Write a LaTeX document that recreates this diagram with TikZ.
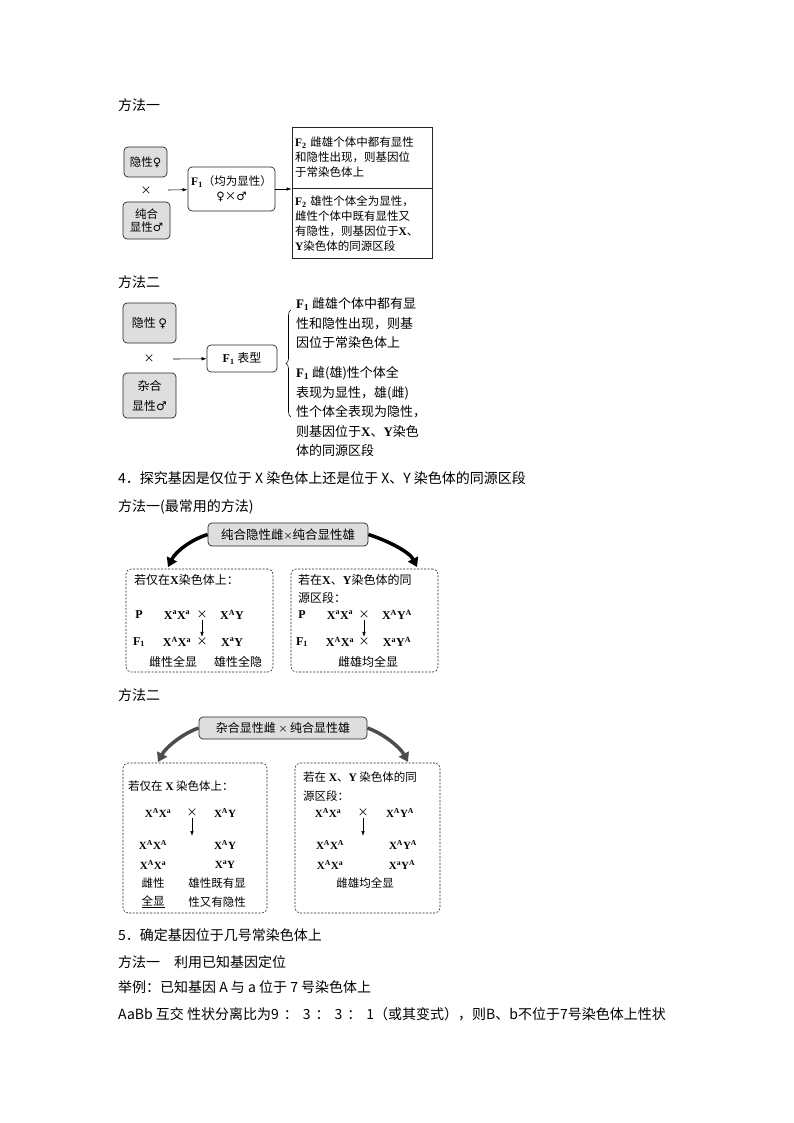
\documentclass[tikz,border=0pt]{standalone}
\usepackage{fontspec}
\setmainfont{Noto Sans CJK SC}
\newfontfamily\lat{Liberation Serif}
\newfontfamily\sym{DejaVu Sans}
\usetikzlibrary{arrows,arrows.meta,calc,decorations.pathreplacing,positioning}
\newcommand{\gt}[1]{{\lat\bfseries #1}}
\newcommand{\su}[1]{\textsuperscript{#1}}
\newcommand{\fe}{{\sym ♀}}
\newcommand{\ma}{{\sym ♂}}
\newcommand{\gap}{\hspace{5pt}}
\tikzset{%
	body/.style      = {anchor=west, inner sep=0pt, font=\fontsize{14}{16}\selectfont},
	graybox/.style   = {draw=black!85, fill=black!13, rounded corners=4pt, line width=.7pt, align=center, inner sep=1pt, font=\fontsize{11.5}{13.5}\selectfont},
	whitebox/.style  = {draw=black!85, rounded corners=4pt, line width=.7pt, align=center, inner sep=1pt, font=\fontsize{11.5}{15}\selectfont},
	resultbox/.style = {draw=black!85, line width=.7pt, align=left, inner sep=3pt, text width=134pt, font=\fontsize{11.5}{15}\selectfont},
	dashbox/.style   = {draw=black!85, dash pattern=on 2pt off 1.5pt, rounded corners=5pt, line width=.6pt},
	boxtext/.style   = {anchor=west, inner sep=0pt, font=\fontsize{12}{14}\selectfont},
	geno/.style      = {inner sep=1pt, font=\lat\bfseries\fontsize{12}{14}\selectfont},
	cross/.style     = {inner sep=1pt, font=\fontsize{11}{13}\selectfont},
	arrow/.style     = {line width=.6pt, -{Latex[length=5pt,width=3.5pt]}},
	bigarrow/.style  = {line width=3.5pt, -{Triangle[length=9pt,width=11pt]}},
}

\begin{document}
\begin{tikzpicture}[x=1pt,y=-1pt]
\useasboundingbox (0,0) rectangle (794,1123);

% method one
\node[body] (m1) at (118,105) {方法一};
\node[graybox, minimum width=43pt, minimum height=30pt] (rec1) at (145.5,162) {隐性\fe};
\node[cross] (x1) at (146,191) {×};
\node[graybox, minimum width=47pt, minimum height=37pt] (dom1) at (146.5,220.5) {纯合\\显性\ma};
\node[whitebox, minimum width=87pt, minimum height=44pt] (f1a) at (231.5,189) {\gt{F\textsubscript{1}}（均为显性）\\\fe×\ma};
\node[resultbox, minimum height=61pt] (auto1) at (362,157.5) {\gt{F\textsubscript{2}} 雌雄个体中都有显性\\和隐性出现，则基因位\\于常染色体上};
\node[resultbox, minimum height=70pt, below=0pt of auto1] (xy1) {\gt{F\textsubscript{2}} 雄性个体全为显性，\\雌性个体中既有显性又\\有隐性，则基因位于\gt{X}、\\\gt{Y}染色体的同源区段};
\coordinate (s1) at (168,190);
\draw[arrow] (s1) -- (f1a);
\draw[arrow] (f1a.east) -- (f1a.east -| xy1.north west);

% method two
\node[body] (m2) at (118,282) {方法二};
\node[graybox, minimum width=53pt, minimum height=40pt, font=\fontsize{12}{20}\selectfont] (rec2) at (149.5,323) {隐性 \fe};
\node[cross] (x2) at (149,359) {×};
\node[graybox, minimum width=53pt, minimum height=45pt, font=\fontsize{12}{20}\selectfont] (het2) at (149.5,395.5) {杂合\\显性\ma};
\node[whitebox, minimum width=70pt, minimum height=27pt, font=\fontsize{12}{14}\selectfont] (f1b) at (242,358.5) {\gt{F\textsubscript{1}} 表型};
\coordinate (s2) at (173,359);
\draw[arrow] (s2) -- (f1b);
\coordinate (brb) at (291,417);
\coordinate (brt) at (291,310);
\draw[line width=.6pt, decorate, decoration={brace, amplitude=5pt}] (brb) -- (brt);
\node[body, align=left, font=\fontsize{13}{19.5}\selectfont] (auto2) at (296,323.5) {\gt{F\textsubscript{1}} 雌雄个体中都有显\\性和隐性出现，则基\\因位于常染色体上};
\node[body, align=left, font=\fontsize{13}{19.5}\selectfont] (xy2) at (296,412) {\gt{F\textsubscript{1}} 雌(雄)性个体全\\表现为显性，雄(雌)\\性个体全表现为隐性，\\则基因位于\gt{X}、\gt{Y}染色\\体的同源区段};

% section 4
\node[body] (h4) at (118,478) {4．探究基因是仅位于 X 染色体上还是位于 X、Y 染色体的同源区段};
\node[body] (m3) at (118,507) {方法一(最常用的方法)};
\node[graybox, minimum width=160pt, minimum height=23pt, font=\fontsize{12.5}{14}\selectfont] (cross3) at (288,534.5) {纯合隐性雌{\small ×}纯合显性雄};
\node[dashbox, minimum width=147pt, minimum height=103pt] (onlyx3) at (199.5,620.5) {};
\node[dashbox, minimum width=147pt, minimum height=103pt] (homo3) at (364.5,620.5) {};
\coordinate (tipl3) at (168,567);
\coordinate (tipr3) at (417,567);
\draw[bigarrow] (cross3.west) .. controls +(-16,5) and +(8,-16) .. (tipl3);
\draw[bigarrow] (cross3.east) .. controls +(16,5) and +(-8,-16) .. (tipr3);
% left box
\node[boxtext] at (134,580) {若仅在\gt{X}染色体上：};
\node[geno] at (139,615) {P};
\node[geno] at (177,615) {X\su{a}X\su{a}};
\node[cross] (lx3a) at (202,615) {×};
\node[geno] at (232,615) {X\su{A}Y};
\node[geno] at (139,642) {F\textsubscript{1}};
\node[geno] at (177,642) {X\su{A}X\su{a}};
\node[cross] (lx3b) at (202,642) {×};
\node[geno] at (232,642) {X\su{a}Y};
\draw[arrow] (lx3a.south) -- (lx3b.north);
\node[boxtext, anchor=center] at (173,662) {雌性全显};
\node[boxtext, anchor=center] at (238,662) {雄性全隐};
% right box
\node[boxtext] at (298,580) {若在\gt{X}、\gt{Y}染色体的同};
\node[boxtext] at (298,598) {源区段：};
\node[geno] at (302,615) {P};
\node[geno] at (340,615) {X\su{a}X\su{a}};
\node[cross] (rx3a) at (364,615) {×};
\node[geno] at (397,615) {X\su{A}Y\su{A}};
\node[geno] at (302,642) {F\textsubscript{1}};
\node[geno] at (340,642) {X\su{A}X\su{a}};
\node[cross] (rx3b) at (364,642) {×};
\node[geno] at (397,642) {X\su{a}Y\su{A}};
\draw[arrow] (rx3a.south) -- (rx3b.north);
\node[boxtext, anchor=center] at (368,662) {雌雄均全显};

% method two, section 4
\node[body] (m4) at (118,695) {方法二};
\node[graybox, minimum width=168pt, minimum height=22pt, font=\fontsize{12}{14}\selectfont] (cross4) at (283,728) {杂合显性雌 {\small ×} 纯合显性雄};
\node[dashbox, minimum width=144pt, minimum height=150pt] (onlyx4) at (195,838) {};
\node[dashbox, minimum width=145pt, minimum height=150pt] (homo4) at (367.5,838) {};
\coordinate (tipl4) at (158,762);
\coordinate (tipr4) at (408,762);
\draw[bigarrow, black!70] (cross4.west) .. controls +(-15,5) and +(8,-15) .. (tipl4);
\draw[bigarrow, black!70] (cross4.east) .. controls +(15,5) and +(-8,-15) .. (tipr4);
% left box
\node[boxtext, font=\fontsize{11.5}{14}\selectfont] at (128,786) {若仅在 \gt{X} 染色体上：};
\node[geno, font=\lat\bfseries\fontsize{11}{13}\selectfont] at (158,813) {X\su{A}X\su{a}};
\node[cross] (lx4) at (192,813) {×};
\node[geno, font=\lat\bfseries\fontsize{11}{13}\selectfont] at (225,813) {X\su{A}Y};
\coordinate (le4) at (192,836);
\draw[arrow] (lx4.south) -- (le4);
\node[geno, font=\lat\bfseries\fontsize{11}{13}\selectfont] at (153,845) {X\su{A}X\su{A}};
\node[geno, font=\lat\bfseries\fontsize{11}{13}\selectfont] at (225,845) {X\su{A}Y};
\node[geno, font=\lat\bfseries\fontsize{11}{13}\selectfont] at (153,865) {X\su{A}X\su{a}};
\node[geno, font=\lat\bfseries\fontsize{11}{13}\selectfont] at (225,865) {X\su{a}Y};
\node[boxtext, anchor=center, font=\fontsize{11.5}{14}\selectfont] at (153,883) {雌性};
\node[boxtext, anchor=center, font=\fontsize{11.5}{14}\selectfont] at (217,883) {雄性既有显};
\node[boxtext, anchor=center, font=\fontsize{11.5}{14}\selectfont] at (153,902) {\underline{全显}};
\node[boxtext, anchor=center, font=\fontsize{11.5}{14}\selectfont] at (217,902) {性又有隐性};
% right box
\node[boxtext, font=\fontsize{11.5}{14}\selectfont] at (303,777) {若在 \gt{X}、\gt{Y} 染色体的同};
\node[boxtext, font=\fontsize{11.5}{14}\selectfont] at (303,796) {源区段：};
\node[geno, font=\lat\bfseries\fontsize{11}{13}\selectfont] at (328,813) {X\su{A}X\su{a}};
\node[cross] (rx4) at (363,813) {×};
\node[geno, font=\lat\bfseries\fontsize{11}{13}\selectfont] at (400,813) {X\su{A}Y\su{A}};
\coordinate (re4) at (363,836);
\draw[arrow] (rx4.south) -- (re4);
\node[geno, font=\lat\bfseries\fontsize{11}{13}\selectfont] at (330,845) {X\su{A}X\su{A}};
\node[geno, font=\lat\bfseries\fontsize{11}{13}\selectfont] at (403,845) {X\su{A}Y\su{A}};
\node[geno, font=\lat\bfseries\fontsize{11}{13}\selectfont] at (330,865) {X\su{A}X\su{a}};
\node[geno, font=\lat\bfseries\fontsize{11}{13}\selectfont] at (402,865) {X\su{a}Y\su{A}};
\node[boxtext, anchor=center, font=\fontsize{11.5}{14}\selectfont] at (365,883) {雌雄均全显};

% section 5
\node[body] (h5) at (118,935) {5．确定基因位于几号常染色体上};
\node[body] (m5) at (118,962) {方法一　利用已知基因定位};
\node[body] (ex5) at (118,987) {举例：已知基因 A 与 a 位于 7 号染色体上};
\node[body] (res5) at (118,1014) {AaBb 互交 性状分离比为9\gap：\gap3\gap：\gap3\gap：\gap1（或其变式），则B、b不位于7号染色体上性状};
\end{tikzpicture}
\end{document}
